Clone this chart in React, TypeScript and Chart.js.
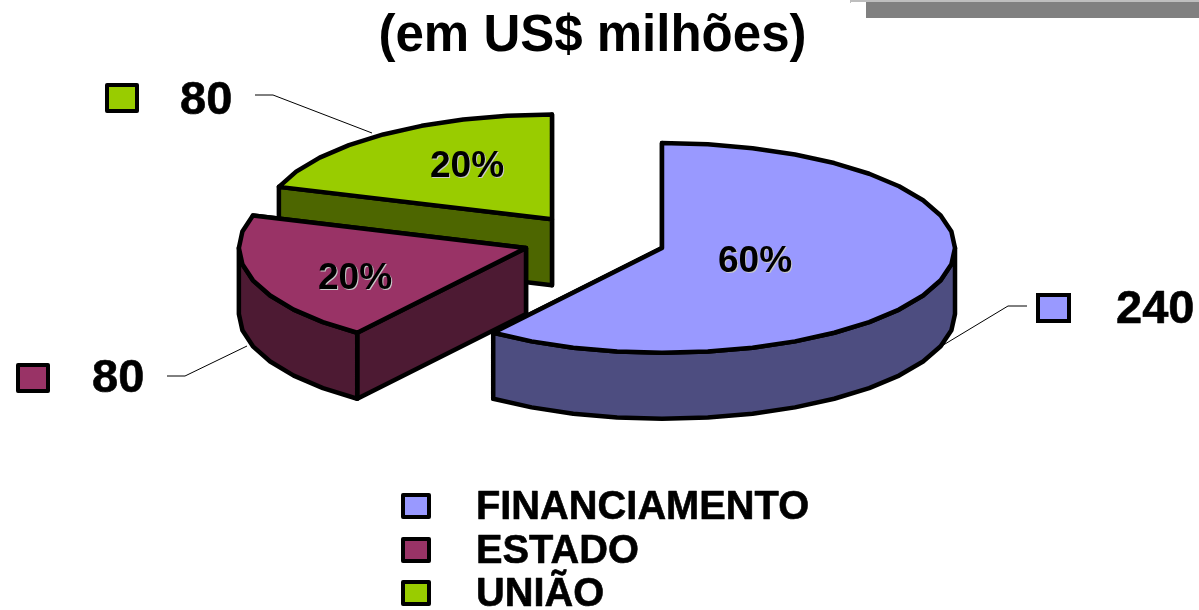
import React, { useEffect, useRef } from "react";
import { Chart, registerables } from "chart.js";

Chart.register(...registerables);

const titleText = "(em US$ milhões)";
const categories = ["FINANCIAMENTO", "ESTADO", "UNIÃO"];
const values = [240, 80, 80];
const topColors = ["#9999FF", "#993366", "#99CC00"];
const wallColors = ["#4D4D80", "#4D1A33", "#4D6600"];

const FONT = '"Liberation Sans", Arial, sans-serif';
const TILT = 0.358;
const DEPTH = 66;
const EXPLODE = 71.5;
const RADIUS = 293;
const LEFT_SQUEEZE = 0.98;
const PIE_SHIFT_X = 1.5;
const STEP = (9 * Math.PI) / 180;

const valueLabelLayout = [
  { x: 1116, y: 310, box: [1038, 295, 31, 26], leader: [[1027, 306], [1008, 306], [940, 347]] },
  { x: 92, y: 379, box: [18, 365, 30, 26], leader: [[167, 376], [185, 376], [247, 346]] },
  { x: 180, y: 101, box: [107, 85, 30, 26], leader: [[255, 95], [273, 95], [372, 133]] },
];
const percentLayout = [
  [755, 262],
  [355, 279],
  [467, 167],
];
const legendLayout = { boxX: 403, textX: 476, textDy: 2, rows: [506, 550, 593], boxW: 26, boxH: 22 };

const heavyText = (ctx: any, txt: string, x: number, y: number, w = 1) => {
  ctx.lineWidth = w;
  ctx.strokeStyle = "#000";
  ctx.lineJoin = "round";
  ctx.strokeText(txt, x, y);
  ctx.fillText(txt, x, y);
};

const pieScene = {
  id: "pieScene",
  beforeDraw(chart: any) {
    const ctx = chart.ctx;
    ctx.save();
    ctx.fillStyle = "#BEBEBE";
    ctx.fillRect(850, 0, 349, 2);
    ctx.fillRect(850, 0, 1, 3);
    ctx.fillStyle = "#808080";
    ctx.fillRect(866, 2, 333, 16);
    ctx.restore();
  },
  beforeDatasetsDraw(chart: any) {
    const ctx = chart.ctx;
    const arcs = chart.getDatasetMeta(0).data;
    ctx.save();
    ctx.strokeStyle = "#000";
    ctx.lineWidth = 1;
    valueLabelLayout.forEach((l) => {
      ctx.beginPath();
      l.leader.forEach((p, i) => (i ? ctx.lineTo(p[0], p[1]) : ctx.moveTo(p[0], p[1])));
      ctx.stroke();
    });
    ctx.restore();

    for (let i = arcs.length - 1; i >= 0; i--) {
      const arc = arcs[i];
      const { x, y, startAngle: s, endAngle: e } = arc.getProps(["x", "y", "startAngle", "endAngle"], true);
      const mid = (s + e) / 2;
      const ox = x + PIE_SHIFT_X + EXPLODE * Math.cos(mid);
      const oy = y + TILT * EXPLODE * Math.sin(mid);
      const pt = (a: number, d = 0) => {
        const c = Math.cos(a);
        return [ox + RADIUS * c * (c < 0 ? LEFT_SQUEEZE : 1), oy + TILT * RADIUS * Math.sin(a) + d];
      };
      const rim = (a: number, b: number, d = 0) => {
        const out = [];
        const n = Math.max(1, Math.round((b - a) / STEP));
        for (let j = 0; j <= n; j++) out.push(pt(a + ((b - a) * j) / n, d));
        return out;
      };
      const trace = (pts: number[][]) => {
        ctx.beginPath();
        pts.forEach((p, j) => (j ? ctx.lineTo(p[0], p[1]) : ctx.moveTo(p[0], p[1])));
        ctx.closePath();
      };
      const poly = (pts: number[][], fill: string | null) => {
        trace(pts);
        if (fill) {
          ctx.fillStyle = fill;
          ctx.fill();
        }
        ctx.stroke();
      };
      ctx.save();
      ctx.lineWidth = 4.5;
      ctx.lineJoin = "round";
      ctx.strokeStyle = "#000";
      [s, e]
        .slice()
        .sort((p, q) => Math.sin(p) - Math.sin(q))
        .forEach((a) => {
          const p = pt(a);
          poly([[ox, oy], p, [p[0], p[1] + DEPTH], [ox, oy + DEPTH]], wallColors[i]);
        });
      const a = Math.max(s, 0);
      const b = Math.min(e, Math.PI);
      if (b > a) poly([...rim(a, b), ...rim(a, b, DEPTH).reverse()], wallColors[i]);

      const top = [[ox, oy], ...rim(s, e)];
      ctx.save();
      trace(top);
      ctx.clip();
      ctx.translate(ox, oy);
      ctx.scale(1, TILT);
      ctx.translate(-x, -y);
      arc.draw(ctx);
      ctx.restore();
      poly(top, null);
      ctx.restore();
    }
    return false;
  },
  afterDraw(chart: any) {
    const ctx = chart.ctx;
    const total = values.reduce((p, c) => p + c, 0);
    ctx.save();
    ctx.textBaseline = "middle";
    ctx.textAlign = "left";

    values.forEach((v, i) => {
      const l = valueLabelLayout[i];
      ctx.fillStyle = topColors[i];
      ctx.strokeStyle = "#000";
      ctx.lineWidth = 4;
      ctx.fillRect(l.box[0], l.box[1], l.box[2], l.box[3]);
      ctx.strokeRect(l.box[0], l.box[1], l.box[2], l.box[3]);
      ctx.fillStyle = "#000";
      ctx.font = `bold 47px ${FONT}`;
      heavyText(ctx, String(v), l.x, l.y, 0.6);
    });

    ctx.textAlign = "center";
    ctx.font = `bold 37px ${FONT}`;
    values.forEach((v, i) => {
      const txt = `${Math.round((v / total) * 100)}%`;
      const [px, py] = percentLayout[i];
      ctx.fillStyle = "#C8C8C8";
      ctx.fillText(txt, px + 1, py + 1);
      ctx.fillStyle = "#000";
      ctx.fillText(txt, px, py);
    });

    ctx.textAlign = "left";
    ctx.font = `bold 39.8px ${FONT}`;
    categories.forEach((c, i) => {
      const cy = legendLayout.rows[i];
      const bx = legendLayout.boxX;
      const bw = legendLayout.boxW;
      const bh = legendLayout.boxH;
      ctx.fillStyle = topColors[i];
      ctx.fillRect(bx, cy - bh / 2, bw, bh);
      ctx.lineWidth = 4;
      ctx.strokeStyle = "#000";
      ctx.strokeRect(bx, cy - bh / 2, bw, bh);
      ctx.fillStyle = "#000";
      heavyText(ctx, c, legendLayout.textX, cy + legendLayout.textDy, 0.6);
    });
    ctx.restore();
  },
};

export default function App() {
  const ref = useRef<HTMLCanvasElement | null>(null);
  useEffect(() => {
    document.body.style.margin = "0";
    const chart = new Chart(ref.current as HTMLCanvasElement, {
      type: "pie",
      data: {
        labels: categories,
        datasets: [{ data: values, backgroundColor: topColors, borderWidth: 0, radius: RADIUS }],
      },
      options: {
        responsive: false,
        animation: false,
        layout: { padding: { top: 6.4, bottom: 197.6, left: 0, right: 14 } },
        plugins: {
          legend: { display: false },
          tooltip: { enabled: false },
          title: {
            display: true,
            text: titleText,
            color: "#000",
            padding: 0,
            font: { family: FONT, size: 51, weight: "bold", lineHeight: 1.2 },
          },
        },
      },
      plugins: [pieScene],
    } as any);
    return () => chart.destroy();
  }, []);
  return <canvas ref={ref} width={1199} height={610} style={{ display: "block", width: 1199, height: 610 }} />;
}
